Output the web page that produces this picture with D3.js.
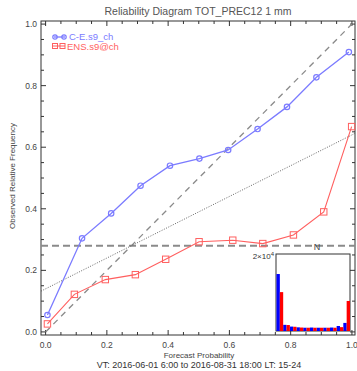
<!DOCTYPE html>
<html>
<head>
<meta charset="utf-8">
<script src="https://cdn.jsdelivr.net/npm/d3@7"></script>
<style>
  body { margin: 0; background: #fff; }
  svg { display: block; font-family: "Liberation Sans", Arial, sans-serif; }
</style>
</head>
<body>
<div class="chart"></div>
<script>
// reliability data
const probCE = [0.006, 0.119, 0.214, 0.31, 0.406, 0.502, 0.596, 0.692, 0.788, 0.884, 0.99];
const freqCE = [0.055, 0.304, 0.385, 0.475, 0.54, 0.563, 0.591, 0.659, 0.731, 0.827, 0.909];
const probENS = [0.006, 0.094, 0.195, 0.293, 0.392, 0.501, 0.611, 0.709, 0.809, 0.908, 0.999];
const freqENS = [0.026, 0.122, 0.17, 0.186, 0.236, 0.293, 0.298, 0.287, 0.315, 0.39, 0.667];
const climatology = 0.28;
// sharpness histogram (counts per bin)
const countCE = [14800, 1600, 1150, 950, 850, 900, 850, 850, 900, 1300, 2100];
const countENS = [10100, 1550, 1100, 900, 850, 850, 850, 850, 850, 1000, 7800];
const histMax = 20000;
const majorTicks = [0, 0.2, 0.4, 0.6, 0.8, 1.0];
const minorTicks = d3.range(0, 1.0001, 0.05);
const seriesNames = ["C-E.s9_ch", "ENS.s9@ch"];

const width = 357, height = 371;
const blue = "#7b7bff", red = "#ff5f5f", gray = "#8a8a8a", ink = "#333";

const svg = d3.select(".chart").append("svg")
  .attr("width", width).attr("height", height);

const x = d3.scaleLinear().domain([-0.015, 1.01]).range([41, 355]);
const y = d3.scaleLinear().domain([-0.01, 1.01]).range([335, 21]);

// title and labels
svg.append("text").attr("x", 198).attr("y", 15).attr("text-anchor", "middle")
  .style("font-size", "10.5px").style("fill", "#555")
  .text("Reliability Diagram TOT_PREC12 1 mm");
svg.append("text").attr("x", 199).attr("y", 358).attr("text-anchor", "middle")
  .style("font-size", "8px").style("fill", "#444").text("Forecast Probability");
svg.append("text").attr("x", 199).attr("y", 368).attr("text-anchor", "middle")
  .style("font-size", "9px").style("fill", "#333")
  .text("VT: 2016-06-01  6:00 to 2016-08-31 18:00 LT: 15-24");
svg.append("text").attr("transform", "translate(15,176) rotate(-90)")
  .attr("text-anchor", "middle").style("font-size", "8px").style("fill", "#444")
  .text("Observed Relative Frequency");

// frame with inward ticks
const axes = svg.append("g").attr("stroke", ink).attr("stroke-width", 1).attr("fill", "none");
axes.append("rect").attr("x", 41).attr("y", 21).attr("width", 314).attr("height", 314);
minorTicks.forEach(v => {
  const major = majorTicks.some(m => Math.abs(m - v) < 1e-6);
  const len = major ? 5 : 3;
  axes.append("line").attr("x1", x(v)).attr("x2", x(v)).attr("y1", 335).attr("y2", 335 - len);
  axes.append("line").attr("x1", x(v)).attr("x2", x(v)).attr("y1", 21).attr("y2", 21 + len);
  axes.append("line").attr("x1", 41).attr("x2", 41 + len).attr("y1", y(v)).attr("y2", y(v));
  axes.append("line").attr("x1", 355).attr("x2", 355 - len).attr("y1", y(v)).attr("y2", y(v));
});
majorTicks.forEach(v => {
  svg.append("text").attr("x", x(v)).attr("y", 347.5).attr("text-anchor", "middle")
    .style("font-size", "8.5px").style("fill", "#444").text(v.toFixed(1));
  svg.append("text").attr("x", 37).attr("y", y(v) + 3).attr("text-anchor", "end")
    .style("font-size", "8.5px").style("fill", "#444").text(v.toFixed(1));
});

// reference lines
svg.append("line").attr("x1", x(0)).attr("y1", y(0)).attr("x2", x(1)).attr("y2", y(1))
  .attr("stroke", gray).attr("stroke-width", 1.3).attr("stroke-dasharray", "6,5");
svg.append("line").attr("x1", 41).attr("x2", 355).attr("y1", y(climatology)).attr("y2", y(climatology))
  .attr("stroke", gray).attr("stroke-width", 2).attr("stroke-dasharray", "7,4");
svg.append("line")
  .attr("x1", 41).attr("y1", y((x.invert(41) + climatology) / 2))
  .attr("x2", 355).attr("y2", y((x.invert(355) + climatology) / 2))
  .attr("stroke", "#555").attr("stroke-width", 0.9).attr("stroke-dasharray", "1,1.5");

// series
const line = d3.line().x(d => x(d[0])).y(d => y(d[1]));
const ce = d3.zip(probCE, freqCE), ens = d3.zip(probENS, freqENS);
svg.append("path").datum(ce).attr("d", line).attr("fill", "none").attr("stroke", blue).attr("stroke-width", 1.3);
svg.selectAll(".pc").data(ce).enter().append("circle")
  .attr("cx", d => x(d[0])).attr("cy", d => y(d[1])).attr("r", 2.7)
  .attr("fill", "none").attr("stroke", blue).attr("stroke-width", 1.2);
svg.append("path").datum(ens).attr("d", line).attr("fill", "none").attr("stroke", red).attr("stroke-width", 1.1);
svg.selectAll(".pe").data(ens).enter().append("rect")
  .attr("x", d => x(d[0]) - 3.2).attr("y", d => y(d[1]) - 3.2).attr("width", 6.4).attr("height", 6.4)
  .attr("fill", "none").attr("stroke", red).attr("stroke-width", 1);

// legend
const leg = svg.append("g");
leg.append("line").attr("x1", 54).attr("x2", 65).attr("y1", 37).attr("y2", 37).attr("stroke", blue).attr("stroke-width", 1.3);
[55, 64].forEach(cx => leg.append("circle").attr("cx", cx).attr("cy", 37).attr("r", 2.2)
  .attr("fill", "none").attr("stroke", blue).attr("stroke-width", 1.2));
leg.append("text").attr("x", 69).attr("y", 40).style("font-size", "9.5px").style("fill", blue).text(seriesNames[0]);
leg.append("line").attr("x1", 53).attr("x2", 65).attr("y1", 46).attr("y2", 46).attr("stroke", red);
[55, 62.5].forEach(cx => leg.append("rect").attr("x", cx - 2.5).attr("y", 43.5).attr("width", 5).attr("height", 5)
  .attr("fill", "none").attr("stroke", red));
leg.append("text").attr("x", 67).attr("y", 49.5).style("font-size", "9.5px").style("fill", red).text(seriesNames[1]);

// sharpness inset
const inX = d3.scaleBand().domain(d3.range(countCE.length)).range([276.5, 350]).padding(0);
const inY = d3.scaleLinear().domain([0, histMax]).range([331, 254]);
const inset = svg.append("g");
inset.append("rect").attr("x", 276).attr("y", 254).attr("width", 74).attr("height", 77)
  .attr("fill", "#fff").attr("stroke", ink).attr("stroke-width", 1);
const half = inX.bandwidth() / 2;
inset.selectAll(".hb").data(countCE).enter().append("rect")
  .attr("x", (d, i) => inX(i)).attr("width", half)
  .attr("y", d => inY(d)).attr("height", d => inY(0) - inY(d)).attr("fill", "#0000ff");
inset.selectAll(".hr").data(countENS).enter().append("rect")
  .attr("x", (d, i) => inX(i) + half).attr("width", half)
  .attr("y", d => inY(d)).attr("height", d => inY(0) - inY(d)).attr("fill", "#ff0000");
inset.append("text").attr("x", 317).attr("y", 250).attr("text-anchor", "middle")
  .style("font-size", "9px").style("fill", "#444").text("N");
const lab = inset.append("text").attr("x", 274).attr("y", 259).attr("text-anchor", "end")
  .style("font-size", "8px").style("fill", "#333");
lab.append("tspan").text("2\u00d710");
lab.append("tspan").attr("dy", -3).style("font-size", "6px").text("4");
</script>
</body>
</html>
